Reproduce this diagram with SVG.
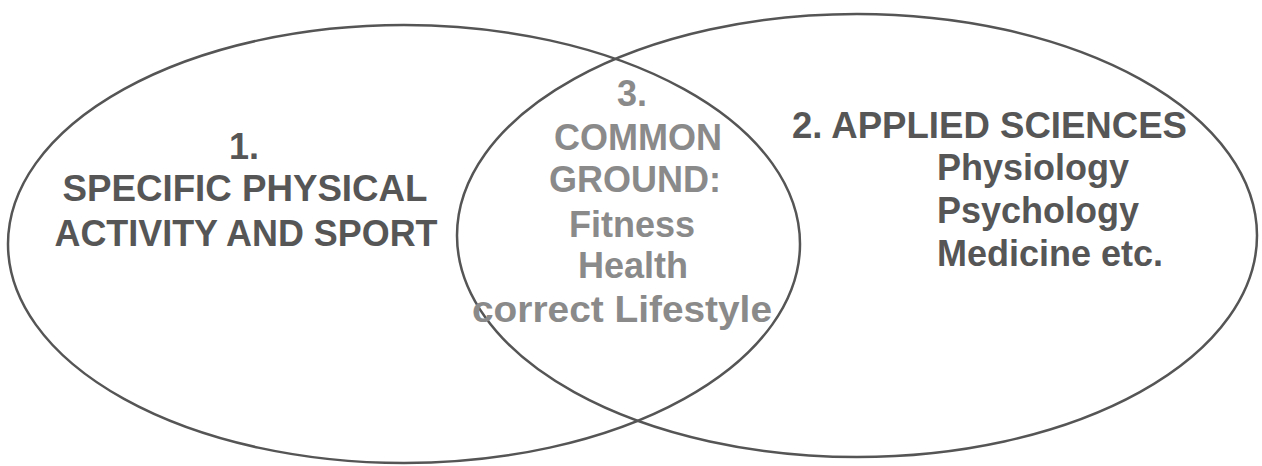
<svg xmlns="http://www.w3.org/2000/svg" width="1262" height="466" viewBox="0 0 1262 466">
<style>
.ring{fill:none;stroke:#555;stroke-width:2.5}
.t{font-family:"Liberation Sans",Arial,sans-serif;font-weight:bold;font-size:36px}
.dark{fill:#565656}
.light{fill:#8a8a8a}
.mid{text-anchor:middle}
</style>
<rect width="1262" height="466" fill="#fff"/>
<g id="connectors"></g>
<g id="node-left">
<ellipse class="ring" cx="404" cy="244" rx="396" ry="219"/>
<text class="t dark mid" x="244" y="159">1.</text>
<text class="t dark mid" x="245" y="201" textLength="365" lengthAdjust="spacingAndGlyphs">SPECIFIC PHYSICAL</text>
<text class="t dark mid" x="246" y="246" textLength="383" lengthAdjust="spacingAndGlyphs">ACTIVITY AND SPORT</text>
</g>
<g id="node-right">
<ellipse class="ring" cx="857" cy="235.5" rx="400" ry="221.5"/>
<text class="t dark" x="792" y="138" textLength="395" lengthAdjust="spacingAndGlyphs">2. APPLIED SCIENCES</text>
<text class="t dark" x="937" y="180">Physiology</text>
<text class="t dark" x="937" y="223">Psychology</text>
<text class="t dark" x="937" y="266">Medicine etc.</text>
</g>
<g id="node-common">
<text class="t light mid" x="632" y="106">3.</text>
<text class="t light mid" x="638" y="150">COMMON</text>
<text class="t light mid" x="635" y="192">GROUND:</text>
<text class="t light mid" x="632" y="237">Fitness</text>
<text class="t light mid" x="633" y="278">Health</text>
<text class="t light mid" x="622" y="322" textLength="300" lengthAdjust="spacingAndGlyphs">correct Lifestyle</text>
</g>
</svg>
